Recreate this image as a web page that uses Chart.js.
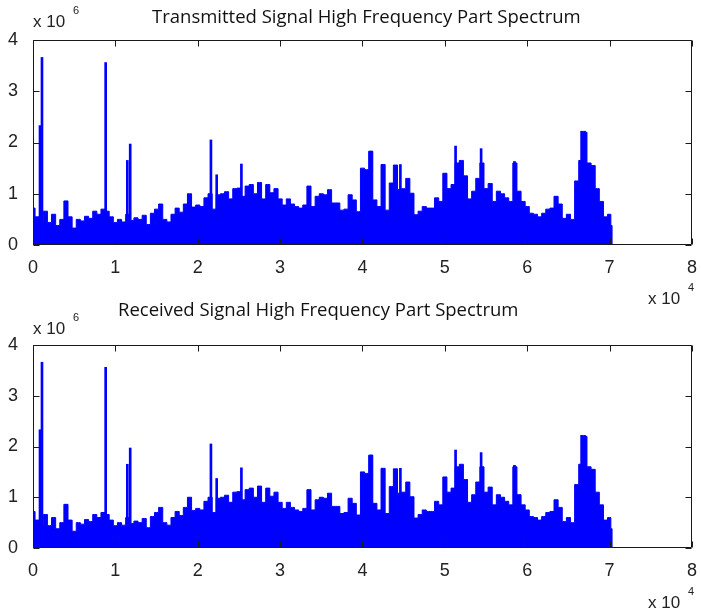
<!DOCTYPE html>
<html>
<head>
<meta charset="utf-8">
<script src="https://cdn.jsdelivr.net/npm/chart.js@4.4.0/dist/chart.umd.min.js"></script>
<style>
  body { margin: 0; background: #fff; width: 701px; height: 613px; position: relative; overflow: hidden; font-family: "Liberation Sans", Arial, sans-serif; color: #222; }
  .plot { position: absolute; left: 0; }
  .title { position: absolute; font-family: "Open Sans", sans-serif; font-size: 18.5px; color: #111; white-space: nowrap; }
  .mult { position: absolute; font-size: 17px; white-space: nowrap; }
  .mult .exp { position: absolute; font-size: 11px; }
</style>
</head>
<body>
<canvas id="c1" class="plot" width="701" height="300" style="top:0px;"></canvas>
<canvas id="c2" class="plot" width="701" height="300" style="top:303px;"></canvas>

<div class="title" style="left:152px; top:3px;">Transmitted Signal High Frequency Part Spectrum</div>
<div class="mult" style="left:33px; top:12px;">x 10<span class="exp" style="left:40px; top:-8px;">6</span></div>
<div class="mult" style="left:648px; top:289px;">x 10<span class="exp" style="left:40px; top:-8px;">4</span></div>

<div class="title" style="left:118px; top:296px;">Received Signal High Frequency Part Spectrum</div>
<div class="mult" style="left:33px; top:319px;">x 10<span class="exp" style="left:40px; top:-8px;">6</span></div>
<div class="mult" style="left:648px; top:593px;">x 10<span class="exp" style="left:40px; top:-8px;">4</span></div>

<script>
// spectrum envelope, one value every 500 Hz from 0 to 70 kHz (x 1e6)
const binHz = 500;
const transmittedAmp = [
  0.72, 0.55, 0.45, 0.66, 0.44, 0.6, 0.38, 0.5, 0.86, 0.55, 0.33, 0.5, 0.47, 0.56, 0.52, 0.66, 0.6, 0.7,
  0.66, 0.55, 0.44, 0.5, 0.45, 0.6, 0.48, 0.53, 0.5, 0.58, 0.4, 0.62, 0.7, 0.8, 0.5, 0.45, 0.6, 0.72,
  0.64, 0.8, 1.0, 0.74, 0.78, 0.75, 0.92, 1.0, 0.7, 0.98, 1.0, 1.04, 0.9, 1.1, 1.11, 0.95, 1.15,
  1.18, 1.0, 1.22, 0.9, 1.18, 1.02, 1.1, 0.9, 0.78, 0.9, 0.8, 0.75, 0.72, 0.78, 1.15, 0.75, 0.95,
  1.0, 0.98, 1.08, 0.82, 0.82, 0.68, 0.7, 0.98, 0.88, 0.65, 1.5, 1.47, 1.83, 0.88, 0.75, 1.57, 0.68, 1.21,
  1.56, 1.08, 1.1, 1.3, 1.01, 0.59, 0.66, 0.75, 0.72, 0.72, 0.92, 0.85, 1.4, 1.1, 1.18, 1.6, 1.65, 1.35,
  0.9, 1.05, 1.3, 1.6, 1.1, 1.2, 0.85, 1.05, 1.0, 0.92, 0.85, 1.6, 1.05, 0.85, 0.75, 0.62, 0.6, 0.55,
  0.62, 0.7, 0.72, 0.95, 0.8, 0.52, 0.6, 0.5, 1.25, 1.65, 2.2, 1.6, 1.55, 1.1, 0.85, 0.55, 0.6,
];
const tailHz = 70300;
const tailAmp = 0.38;

// narrow peaks sticking out of the envelope (kHz, x 1e6)
const transmittedPeakHz = [0.85, 1.09, 8.82, 11.45, 11.8, 21.6, 22.3, 25.3, 41.05, 44.6, 51.3, 54.4, 58.45, 66.6, 66.95];
const transmittedPeakAmp = [2.33, 3.66, 3.56, 1.65, 1.97, 2.05, 1.37, 1.58, 1.83, 1.57, 1.93, 1.88, 1.63, 2.22, 2.22];

// the received spectrum reads the same as the transmitted one
const receivedAmp = transmittedAmp.slice();
const receivedPeakHz = transmittedPeakHz.slice();
const receivedPeakAmp = transmittedPeakAmp.slice();

const xTicks = [0, 1, 2, 3, 4, 5, 6, 7, 8]; // x 1e4
const yTicks = [0, 1, 2, 3, 4]; // x 1e6

const BLUE = "#0000ff";
const AXIS = "#1a1a1a";

// matlab style box with inward ticks on all four sides
const boxTicks = {
  id: "boxTicks",
  afterDraw(chart) {
    const ctx = chart.ctx;
    const a = chart.chartArea;
    const sx = chart.scales.x;
    const sy = chart.scales.y;
    const len = 6;
    const l = Math.round(a.left) + 0.5, r = Math.round(a.right) - 0.5;
    const t = Math.round(a.top) + 0.5, b = Math.round(a.bottom) - 0.5;
    ctx.save();
    ctx.strokeStyle = AXIS;
    ctx.lineWidth = 1;
    ctx.beginPath();
    ctx.rect(l, t, r - l, b - t);
    xTicks.forEach((v) => {
      const px = Math.round(sx.getPixelForValue(v * 1e4)) + 0.5;
      ctx.moveTo(px, b);
      ctx.lineTo(px, b - len);
      ctx.moveTo(px, t);
      ctx.lineTo(px, t + len);
    });
    yTicks.forEach((v) => {
      const py = Math.round(sy.getPixelForValue(v * 1e6)) + 0.5;
      ctx.moveTo(l, py);
      ctx.lineTo(l + len, py);
      ctx.moveTo(r, py);
      ctx.lineTo(r - len, py);
    });
    ctx.stroke();
    ctx.restore();
  },
};

const makeSpectrum = (canvasId, amp, peakHz, peakAmp, topPad) => {
  const envelope = amp.map((v, i) => ({ x: i * binHz, y: v * 1e6 }));
  envelope.push({ x: tailHz, y: tailAmp * 1e6 });
  envelope.push({ x: tailHz, y: 0 });
  const peaks = peakHz.map((f, i) => ({ x: f * 1000, y: peakAmp[i] * 1e6 }));
  return new Chart(document.getElementById(canvasId), {
    type: "line",
    data: {
      datasets: [
        {
          data: envelope,
          borderColor: BLUE,
          backgroundColor: BLUE,
          borderWidth: 1,
          fill: "origin",
          pointRadius: 0,
          tension: 0,
          stepped: "middle",
        },
        {
          type: "bar",
          data: peaks,
          backgroundColor: BLUE,
          barThickness: 2,
          grouped: false,
        },
      ],
    },
    options: {
      responsive: false,
      maintainAspectRatio: false,
      animation: false,
      devicePixelRatio: 1,
      layout: { padding: { top: topPad, right: 0, left: 0, bottom: 0 } },
      plugins: { legend: { display: false }, tooltip: { enabled: false }, title: { display: false } },
      scales: {
        x: {
          type: "linear",
          offset: false,
          min: 0,
          max: 80000,
          afterBuildTicks: (s) => { s.ticks = xTicks.map((v) => ({ value: v * 1e4 })); },
          afterFit: (s) => { s.height = 55; },
          grid: { display: false, offset: false },
          border: { display: false },
          ticks: {
            callback: (v) => v / 1e4,
            color: "#222",
            padding: 4,
            maxRotation: 0,
            font: { family: "Liberation Sans", size: 18 },
          },
        },
        y: {
          min: 0,
          max: 4e6,
          afterBuildTicks: (s) => { s.ticks = yTicks.map((v) => ({ value: v * 1e6 })); },
          afterFit: (s) => { s.width = 33; },
          grid: { display: false },
          border: { display: false },
          ticks: {
            callback: (v) => v / 1e6,
            color: "#222",
            padding: 7,
            font: { family: "Liberation Sans", size: 18 },
          },
        },
      },
    },
    plugins: [boxTicks],
  });
};

makeSpectrum("c1", transmittedAmp, transmittedPeakHz, transmittedPeakAmp, 40);
makeSpectrum("c2", receivedAmp, receivedPeakHz, receivedPeakAmp, 42);
</script>
</body>
</html>
